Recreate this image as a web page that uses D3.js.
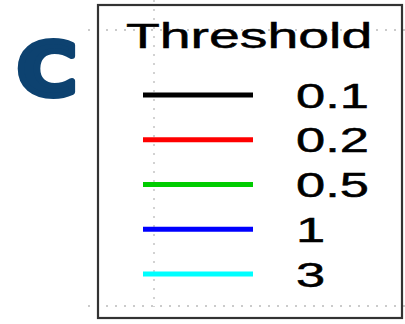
<!DOCTYPE html>
<html>
<head>
<meta charset="utf-8">
<script src="https://cdn.jsdelivr.net/npm/d3@7"></script>
<style>
  html, body { margin: 0; padding: 0; background: #fff; }
  svg { display: block; }
</style>
</head>
<body>
<svg id="chart" width="405" height="324"></svg>
<script>
// Legend entries: threshold labels and their line colours
const thresholds = ["0.1", "0.2", "0.5", "1", "3"];
const lineColors = ["#000000", "#ff0000", "#00cc00", "#0000ff", "#00ffff"];
const legendTitle = "Threshold";
const panelLetter = "C";

const svg = d3.select("#chart");
const W = 405, H = 324;

// Background dotted grid of the underlying panel
const gridX = [154];
const gridY = [30, 306];
const grid = svg.append("g").attr("stroke", "#bbbbbb").attr("stroke-width", 1.3)
  .attr("stroke-dasharray", "2,7");
grid.selectAll("line.v").data(gridX).join("line")
  .attr("x1", d => d).attr("x2", d => d).attr("y1", 0).attr("y2", 307);
grid.selectAll("line.h").data(gridY).join("line")
  .attr("x1", 88).attr("x2", W).attr("y1", d => d).attr("y2", d => d);

// Panel letter
svg.append("text")
  .attr("transform", "translate(17,95) scale(1.12,1)")
  .attr("font-family", "DejaVu Sans")
  .attr("font-weight", 900)
  .attr("font-size", 73)
  .attr("fill", "#0d4270")
  .attr("stroke", "#0d4270")
  .attr("stroke-width", 6)
  .attr("stroke-linejoin", "round")
  .text(panelLetter);

// Legend box
const box = { x: 98, y: 5, w: 304, h: 313 };
svg.append("rect")
  .attr("x", box.x).attr("y", box.y).attr("width", box.w).attr("height", box.h)
  .attr("fill", "none").attr("stroke", "#333").attr("stroke-width", 2.2);

const sx = 1.5;
svg.append("text")
  .attr("transform", `translate(126,48) scale(1.56,1)`)
  .attr("font-family", "Liberation Sans, Arial, sans-serif")
  .attr("font-size", 35.5)
  .attr("fill", "#000")
  .attr("stroke", "#000")
  .attr("stroke-width", 0.5)
  .text(legendTitle);

// Rows placed with a point scale
const y = d3.scalePoint().domain(thresholds).range([95, 274]);
const color = d3.scaleOrdinal().domain(thresholds).range(lineColors);

const rows = svg.append("g").selectAll("g").data(thresholds).join("g");
rows.append("line")
  .attr("x1", 143).attr("x2", 253)
  .attr("y1", d => y(d)).attr("y2", d => y(d))
  .attr("stroke", d => color(d))
  .attr("stroke-width", 4.8);
rows.append("text")
  .attr("transform", d => `translate(296,${y(d) + 12.5}) scale(${sx},1)`)
  .attr("font-family", "Liberation Sans, Arial, sans-serif")
  .attr("font-size", 35)
  .attr("fill", "#000")
  .attr("stroke", "#000")
  .attr("stroke-width", 0.5)
  .text(d => d);
</script>
</body>
</html>
